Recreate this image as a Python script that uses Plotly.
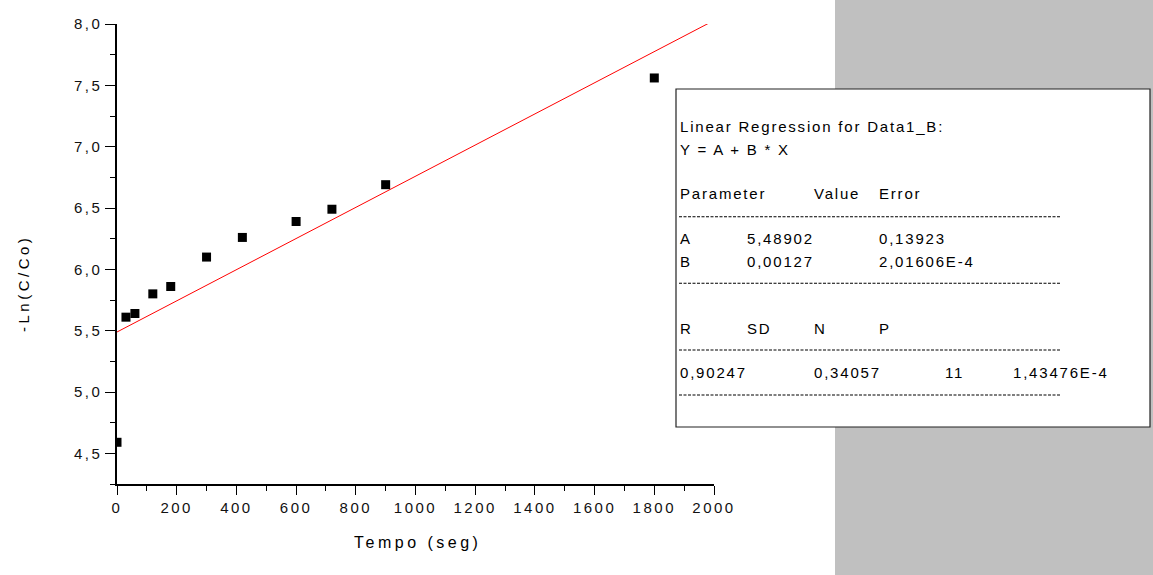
import plotly.graph_objects as go

# ---- data ----
tempo = [0, 30, 60, 120, 180, 300, 420, 600, 720, 900, 1800]
ln_c = [4.59, 5.61, 5.64, 5.80, 5.86, 6.10, 6.26, 6.39, 6.49, 6.69, 7.56]

reg_A = 5.48902
reg_B = 0.00127
fit_x = [0, 2000]

x_ticks = [0, 200, 400, 600, 800, 1000, 1200, 1400, 1600, 1800, 2000]
x_ticklabels = ["0", "200", "400", "600", "800", "1000", "1200", "1400", "1600", "1800", "2000"]
y_ticks = [4.5, 5.0, 5.5, 6.0, 6.5, 7.0, 7.5, 8.0]
y_ticklabels = ["4,5", "5,0", "5,5", "6,0", "6,5", "7,0", "7,5", "8,0"]

box_title = ["Linear Regression for Data1_B:", "Y = A + B * X"]
param_header = ["Parameter", "Value", "Error"]
param_rows = [["A", "5,48902", "0,13923"], ["B", "0,00127", "2,01606E-4"]]
stat_header = ["R", "SD", "N", "P"]
stat_row = ["0,90247", "0,34057", "11", "1,43476E-4"]

# ---- layout geometry (pixels) ----
W_PX, H_PX = 1153, 575
L, R_EDGE, T, B_EDGE = 117, 714, 24, 484
PW, PH = R_EDGE - L, B_EDGE - T
FONT = "Liberation Sans, Arial, sans-serif"


def fx(px):
    return (px - L) / PW


def fy(py):
    return (B_EDGE - py) / PH


def sp(text, ls):
    return f'<span style="letter-spacing:{ls}px">{text}</span>'


fit_y = [reg_A + reg_B * v for v in fit_x]

fig = go.Figure()
fig.add_trace(go.Scatter(x=fit_x, y=fit_y, mode="lines",
                         line=dict(color="#ff0000", width=1), showlegend=False,
                         hoverinfo="skip"))
fig.add_trace(go.Scatter(x=tempo, y=ln_c, mode="markers",
                         marker=dict(symbol="square", size=9, color="black",
                                     line=dict(width=0)),
                         showlegend=False))

shapes = []
# grey area at right
shapes.append(dict(type="rect", xref="paper", yref="paper",
                   x0=fx(835), x1=fx(1160), y0=fy(580), y1=fy(-5),
                   fillcolor="#c0c0c0", line=dict(width=0), layer="below"))
# regression box
shapes.append(dict(type="rect", xref="paper", yref="paper",
                   x0=fx(676), x1=fx(1150), y0=fy(427), y1=fy(89),
                   fillcolor="white", line=dict(color="#222222", width=1.2),
                   layer="above"))
for yy in [216.7, 283.3, 350, 395]:
    shapes.append(dict(type="line", xref="paper", yref="paper",
                       x0=fx(679), x1=fx(1060), y0=fy(yy), y1=fy(yy),
                       line=dict(color="black", width=1.1, dash="3px,1.5px"),
                       layer="above"))

annotations = []


def txt(s, px, py, size=15, ls=1.8, anchor="left", angle=0):
    annotations.append(dict(text=sp(s, ls), xref="paper", yref="paper",
                            x=fx(px), y=fy(py), xanchor=anchor, yanchor="middle",
                            showarrow=False, textangle=angle,
                            font=dict(family=FONT, size=size, color="black")))


txt(box_title[0], 678, 126)
txt(box_title[1], 678, 149)
cols3 = [678, 812, 877]
for c, s in zip(cols3, param_header):
    txt(s, c, 193)
for row, yy in zip(param_rows, [238, 261]):
    for c, s in zip([678, 745, 877], row):
        txt(s, c, yy)
for c, s in zip([678, 745, 812, 877], stat_header):
    txt(s, c, 328)
for c, s in zip([678, 812, 943, 1011], stat_row):
    txt(s, c, 372)

# axis titles
annotations.append(dict(text=sp("Tempo (seg)", 3.5), xref="paper", yref="paper",
                        x=fx(417), y=fy(542), xanchor="center", yanchor="middle",
                        showarrow=False,
                        font=dict(family=FONT, size=16, color="black")))
annotations.append(dict(text=sp("-Ln(C/Co)", 3.5), xref="paper", yref="paper",
                        x=fx(23), y=fy(284), xanchor="center", yanchor="middle",
                        showarrow=False, textangle=-90,
                        font=dict(family=FONT, size=15, color="black")))

fig.update_layout(
    width=W_PX, height=H_PX,
    margin=dict(l=L, r=W_PX - R_EDGE, t=T, b=H_PX - B_EDGE, pad=0),
    paper_bgcolor="white", plot_bgcolor="white",
    shapes=shapes, annotations=annotations,
    font=dict(family=FONT, color="#111111"),
)
fig.update_xaxes(range=[0, 2000], showgrid=False, zeroline=False,
                 showline=True, linecolor="black", linewidth=1.5,
                 ticks="outside", ticklen=9, tickwidth=1.2, tickcolor="black",
                 tickvals=x_ticks, ticktext=[sp(t, 2.5) for t in x_ticklabels],
                 tickfont=dict(family=FONT, size=15, color="#111111"),
                 minor=dict(ticks="outside", ticklen=5, tickwidth=1.2,
                            tickcolor="black", dtick=100, tick0=0, showgrid=False))
fig.update_yaxes(range=[4.25, 8.0], showgrid=False, zeroline=False,
                 showline=True, linecolor="black", linewidth=1.5,
                 ticks="outside", ticklen=10, tickwidth=1.2, tickcolor="black",
                 tickvals=y_ticks, ticktext=[sp(t, 2.5) for t in y_ticklabels],
                 tickfont=dict(family=FONT, size=15, color="#111111"),
                 minor=dict(ticks="outside", ticklen=5, tickwidth=1.2,
                            tickcolor="black", dtick=0.25, tick0=0, showgrid=False))

fig.write_html("out.html", config={"displayModeBar": False},
               post_script="document.body.style.margin='0';document.body.style.overflow='hidden';")
